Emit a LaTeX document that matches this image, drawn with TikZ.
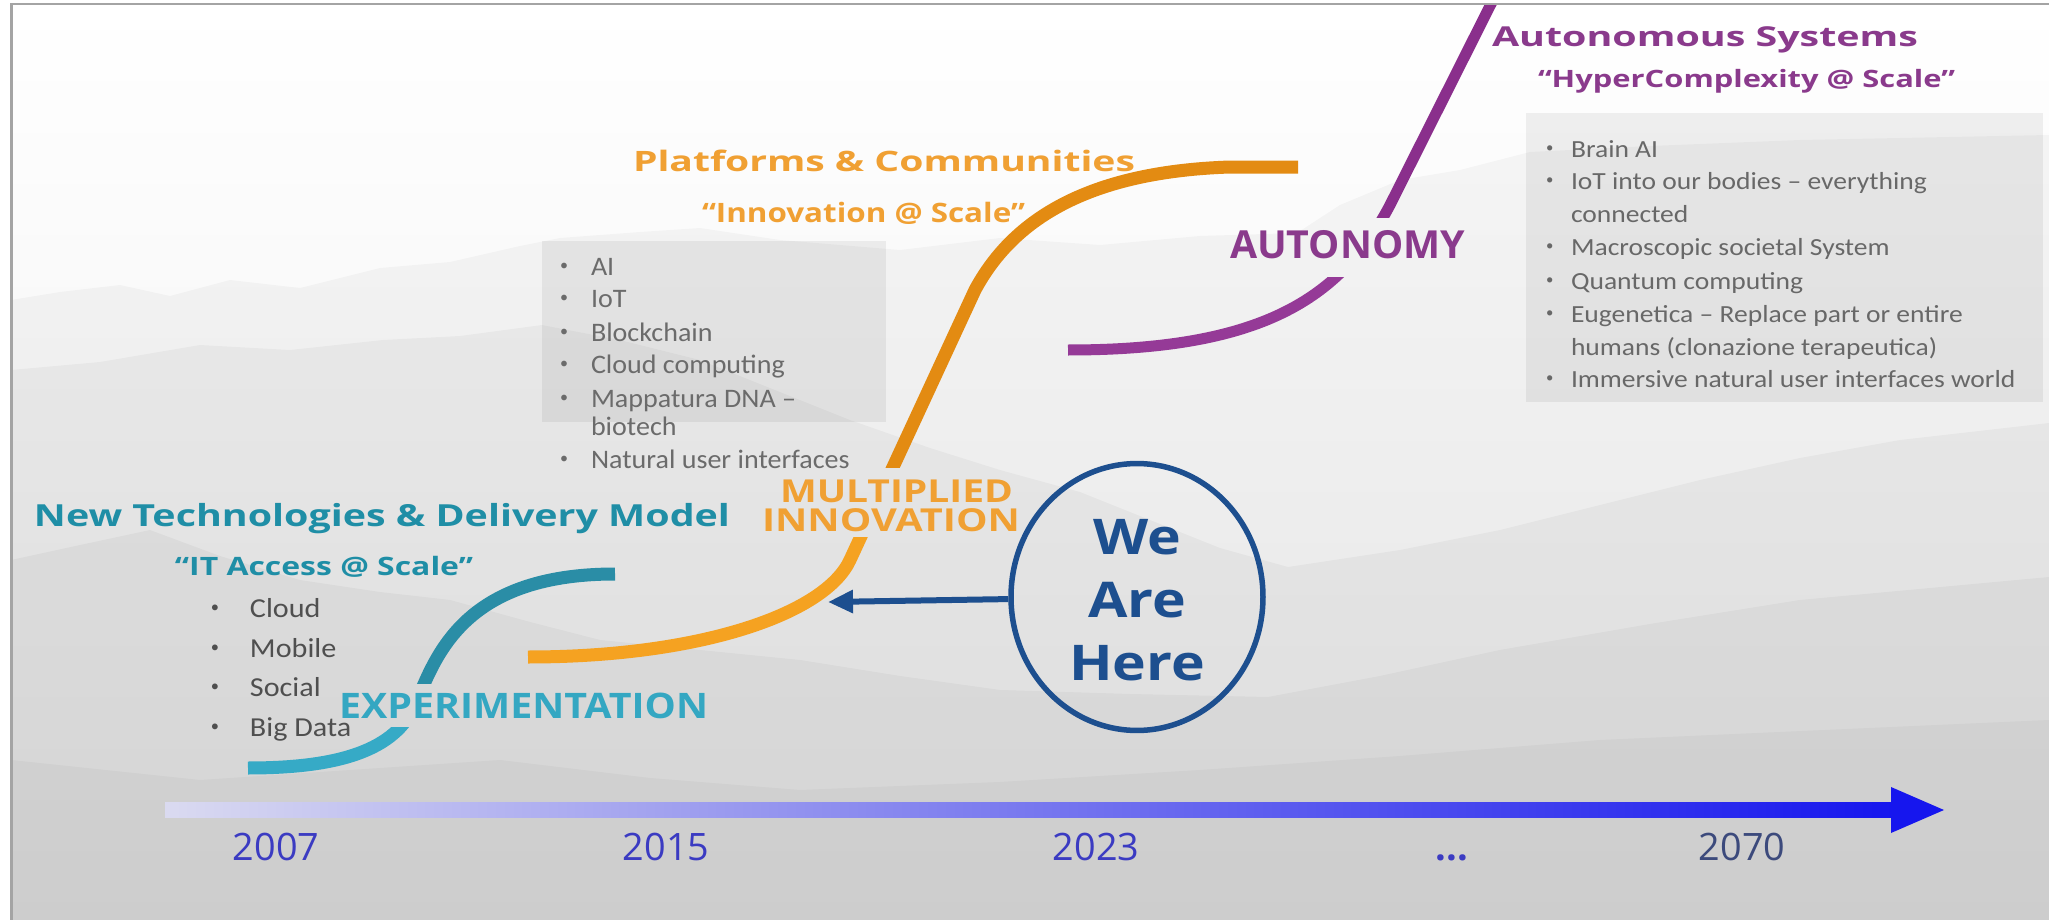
\documentclass[tikz,border=0pt]{standalone}
\usepackage{fontspec}
\usepackage{graphicx}
\usetikzlibrary{arrows.meta,shapes.geometric}
\newfontfamily\os{Open Sans}
\newfontfamily\cb{Carlito}
\newcommand\fitw[2]{\resizebox{#1}{\height}{#2}}
\newcommand\bul[2]{\makebox[#1][l]{\raisebox{0.35ex}{\scalebox{0.6}{•}}}#2}
\definecolor{tealT}{HTML}{1F8EA6}
\definecolor{tealLo}{HTML}{36AAC6}
\definecolor{tealHi}{HTML}{2A8DA6}
\definecolor{tealE}{HTML}{34A7C2}
\definecolor{orgT}{HTML}{F0A033}
\definecolor{orgLo}{HTML}{F5A221}
\definecolor{orgHi}{HTML}{E38B12}
\definecolor{purT}{HTML}{8A3A8C}
\definecolor{purLo}{HTML}{953A97}
\definecolor{purHi}{HTML}{8A2F8C}
\definecolor{navy}{HTML}{1D4F8F}
\definecolor{yearB}{HTML}{3B3BC2}
\definecolor{yearD}{HTML}{3C4A7C}
\definecolor{listL}{HTML}{4F4F4F}
\definecolor{listM}{HTML}{6B6B6B}
\definecolor{listR}{HTML}{686868}
\definecolor{frameG}{HTML}{A4A4A4}
\definecolor{arrB}{HTML}{1616EE}
\definecolor{arrL}{HTML}{DADAF0}
\begin{document}
\begin{tikzpicture}[x=0.1mm,y=-0.1mm,
  lbl/.style={anchor=base west, inner sep=0pt, outer sep=0pt},
  ttl/.style={lbl, font=\os\bfseries\fontsize{#1}{#1}\selectfont},
  itemL/.style={lbl, text=listL, font=\cb\fontsize{7.8}{9}\selectfont},
  itemM/.style={lbl, text=listM, font=\cb\fontsize{7.6}{9}\selectfont},
  itemR/.style={lbl, text=listR, font=\cb\fontsize{7}{8}\selectfont},
  yr/.style={anchor=base, inner sep=0pt, font=\os\fontsize{10.75}{12}\selectfont},
  curve/.style={line cap=butt, line width=#1},
  mount/.style={fill=black, fill opacity=#1, draw=none}]
\useasboundingbox (0,0) rectangle (2049,920);
\fill[white] (0,0) rectangle (2049,920);
% background
\shade[top color=white, bottom color=black!7] (11,4) rectangle (2049,920);
\begin{scope}
\clip (11,4) rectangle (2049,920);
\fill[mount=0.03] (11,300) -- (60,292) -- (120,285) -- (170,296) -- (230,280) -- (300,288) -- (380,268) -- (450,262) -- (520,246) -- (560,238) -- (640,232) -- (700,228) -- (780,240) -- (900,250) -- (1000,238) -- (1100,245) -- (1200,236) -- (1297,233) -- (1340,205) -- (1400,180) -- (1460,170) -- (1530,152) -- (1650,146) -- (1800,140) -- (2049,135) -- (2049,920) -- (11,920) -- cycle;
\fill[mount=0.035] (11,370) -- (100,362) -- (200,345) -- (290,350) -- (383,340) -- (460,336) -- (542,325) -- (620,340) -- (700,360) -- (780,392) -- (850,420) -- (930,448) -- (1000,470) -- (1080,492) -- (1150,520) -- (1220,548) -- (1288,567) -- (1400,550) -- (1500,530) -- (1600,505) -- (1700,480) -- (1800,458) -- (1900,440) -- (2049,423) -- (2049,920) -- (11,920) -- cycle;
\fill[mount=0.035] (11,560) -- (80,545) -- (150,530) -- (220,556) -- (300,580) -- (380,592) -- (450,600) -- (530,622) -- (600,640) -- (700,650) -- (800,660) -- (900,676) -- (1000,690) -- (1130,694) -- (1268,697) -- (1380,676) -- (1500,650) -- (1650,624) -- (1800,600) -- (2049,577) -- (2049,920) -- (11,920) -- cycle;
\fill[mount=0.03] (11,760) -- (200,780) -- (350,770) -- (500,760) -- (650,778) -- (800,790) -- (1000,782) -- (1200,770) -- (1400,756) -- (1600,740) -- (2049,720) -- (2049,920) -- (11,920) -- cycle;
% grey boxes
\fill[mount=0.06] (542,241) rectangle (886,422);
\fill[mount=0.06] (1526,113) rectangle (2043,402);
\end{scope}
% curves, interrupted where their stage labels cross them
\begin{scope}
\clip (11,727) rectangle (2049,920);
\draw[curve=1.3mm, tealLo] (248,768) .. controls (340,768) and (395,750) .. (415,705) .. controls (435,660) and (460,574) .. (615,574);
\end{scope}
\begin{scope}
\clip (11,4) rectangle (2049,683);
\draw[curve=1.3mm, tealHi] (248,768) .. controls (340,768) and (395,750) .. (415,705) .. controls (435,660) and (460,574) .. (615,574);
\end{scope}
\begin{scope}
\clip (11,537) rectangle (2049,920);
\draw[curve=1.3mm, orgLo] (528,657) .. controls (700,657) and (825,614) .. (850,560) -- (975,290) .. controls (1010,225) and (1080,172) .. (1230,167) -- (1298,167);
\end{scope}
\begin{scope}
\clip (11,4) rectangle (2049,467);
\draw[curve=1.3mm, orgHi] (528,657) .. controls (700,657) and (825,614) .. (850,560) -- (975,290) .. controls (1010,225) and (1080,172) .. (1230,167) -- (1298,167);
\end{scope}
\begin{scope}
\clip (11,277) rectangle (2049,920);
\draw[curve=1.1mm, purLo] (1068,350) .. controls (1260,350) and (1340,300) .. (1390,205) -- (1497,-8);
\end{scope}
\begin{scope}
\clip (11,4) rectangle (2049,217);
\draw[curve=1.1mm, purHi] (1068,350) .. controls (1260,350) and (1340,300) .. (1390,205) -- (1497,-8);
\end{scope}
% left stage
\node[ttl=8.65, text=tealT] (ntd) at (34,527) {\fitw{69.6mm}{New Technologies \& Delivery Model}};
\node[ttl=7.2, text=tealT] (ita) at (175,575) {\fitw{29.8mm}{“IT Access @ Scale”}};
\node[itemL] (l1) at (211,617) {\bul{3.9mm}{\scalebox{1.1}[1]{Cloud}}};
\node[itemL] (l2) at (211,657) {\bul{3.9mm}{\scalebox{1.1}[1]{Mobile}}};
\node[itemL] (l3) at (211,696) {\bul{3.9mm}{\scalebox{1.1}[1]{Social}}};
\node[itemL] (l4) at (211,736) {\bul{3.9mm}{\scalebox{1.1}[1]{Big Data}}};
\node[ttl=10, text=tealE] (exp) at (339,718) {\fitw{36.9mm}{EXPERIMENTATION}};
% middle stage
\node[ttl=8, text=orgT] (pc) at (633,171) {\fitw{50.2mm}{Platforms \& Communities}};
\node[ttl=7.6, text=orgT] (ins) at (702,222) {\fitw{32.3mm}{“Innovation @ Scale”}};
\node[itemM] (m1) at (560,275) {\bul{3.1mm}{\scalebox{1.05}[1]{AI}}};
\node[itemM] (m2) at (560,307) {\bul{3.1mm}{\scalebox{1.05}[1]{IoT}}};
\node[itemM] (m3) at (560,341) {\bul{3.1mm}{\scalebox{1.05}[1]{Blockchain}}};
\node[itemM] (m4) at (560,373) {\bul{3.1mm}{\scalebox{1.05}[1]{Cloud computing}}};
\node[itemM] (m5) at (560,407) {\bul{3.1mm}{\scalebox{1.05}[1]{Mappatura DNA –}}};
\node[itemM] (m5b) at (591,435) {\scalebox{1.05}[1]{biotech}};
\node[itemM] (m6) at (560,468) {\bul{3.1mm}{\scalebox{1.05}[1]{Natural user interfaces}}};
\node[ttl=9, text=orgT] (mul) at (780,502) {\fitw{23.3mm}{MULTIPLIED}};
\node[ttl=9, text=orgT] (inn) at (762,531) {\fitw{25.8mm}{INNOVATION}};
% right stage
\node[ttl=7.8, text=purT] (as) at (1492,47) {\fitw{42.6mm}{Autonomous Systems}};
\node[ttl=6.8, text=purT] (hc) at (1538,87) {\fitw{41.7mm}{“HyperComplexity @ Scale”}};
\node[itemR] (r1) at (1546,157) {\bul{2.5mm}{\scalebox{1.12}[1]{Brain AI}}};
\node[itemR] (r2) at (1546,189) {\bul{2.5mm}{\scalebox{1.12}[1]{IoT into our bodies – everything}}};
\node[itemR] (r2b) at (1571,222) {\scalebox{1.12}[1]{connected}};
\node[itemR] (r3) at (1546,255) {\bul{2.5mm}{\scalebox{1.12}[1]{Macroscopic societal System}}};
\node[itemR] (r4) at (1546,289) {\bul{2.5mm}{\scalebox{1.12}[1]{Quantum computing}}};
\node[itemR] (r5) at (1546,322) {\bul{2.5mm}{\scalebox{1.12}[1]{Eugenetica – Replace part or entire}}};
\node[itemR] (r5b) at (1571,355) {\scalebox{1.12}[1]{humans (clonazione terapeutica)}};
\node[itemR] (r6) at (1546,387) {\bul{2.5mm}{\scalebox{1.12}[1]{Immersive natural user interfaces world}}};
\node[ttl=11, text=purT] (aut) at (1230,258) {\fitw{23.5mm}{AUTONOMY}};
% we are here
\node[ellipse, draw=navy, line width=0.55mm, minimum width=25.2mm, minimum height=22mm, inner sep=0pt, text=navy,
      font=\os\bfseries\fontsize{14}{17.9}\selectfont] (wah) at (1137,597)
      {\raisebox{-0.8mm}[\height][\depth]{\scalebox{1.16}[1]{\begin{tabular}{@{}c@{}}We\\Are\\Here\end{tabular}}}};
\coordinate (tip) at (828,602);
\draw[navy, line width=0.6mm, -{Triangle[length=2.5mm,width=2.2mm]}] (wah) -- (tip);
% timeline
\coordinate (tl0) at (165,810);
\coordinate (tl1) at (1944,810);
\shade[left color=arrL, right color=arrB] (165,802.5) rectangle (1893,817.5);
\fill[arrB] (1891,787) -- (tl1) -- (1891,833) -- cycle;
\node[yr, text=yearB] (y1) at (276,860) {2007};
\node[yr, text=yearB] (y2) at (666,860) {2015};
\node[yr, text=yearB] (y3) at (1096,860) {2023};
\node[yr, text=yearB, font=\os\bfseries\fontsize{10.75}{12}\selectfont] (y4) at (1452,860) {...};
\node[yr, text=yearD] (y5) at (1742,860) {2070};
% frame
\draw[frameG, line width=0.3mm] (11,920) -- (11,4) -- (2049,4);
\end{tikzpicture}
\end{document}
